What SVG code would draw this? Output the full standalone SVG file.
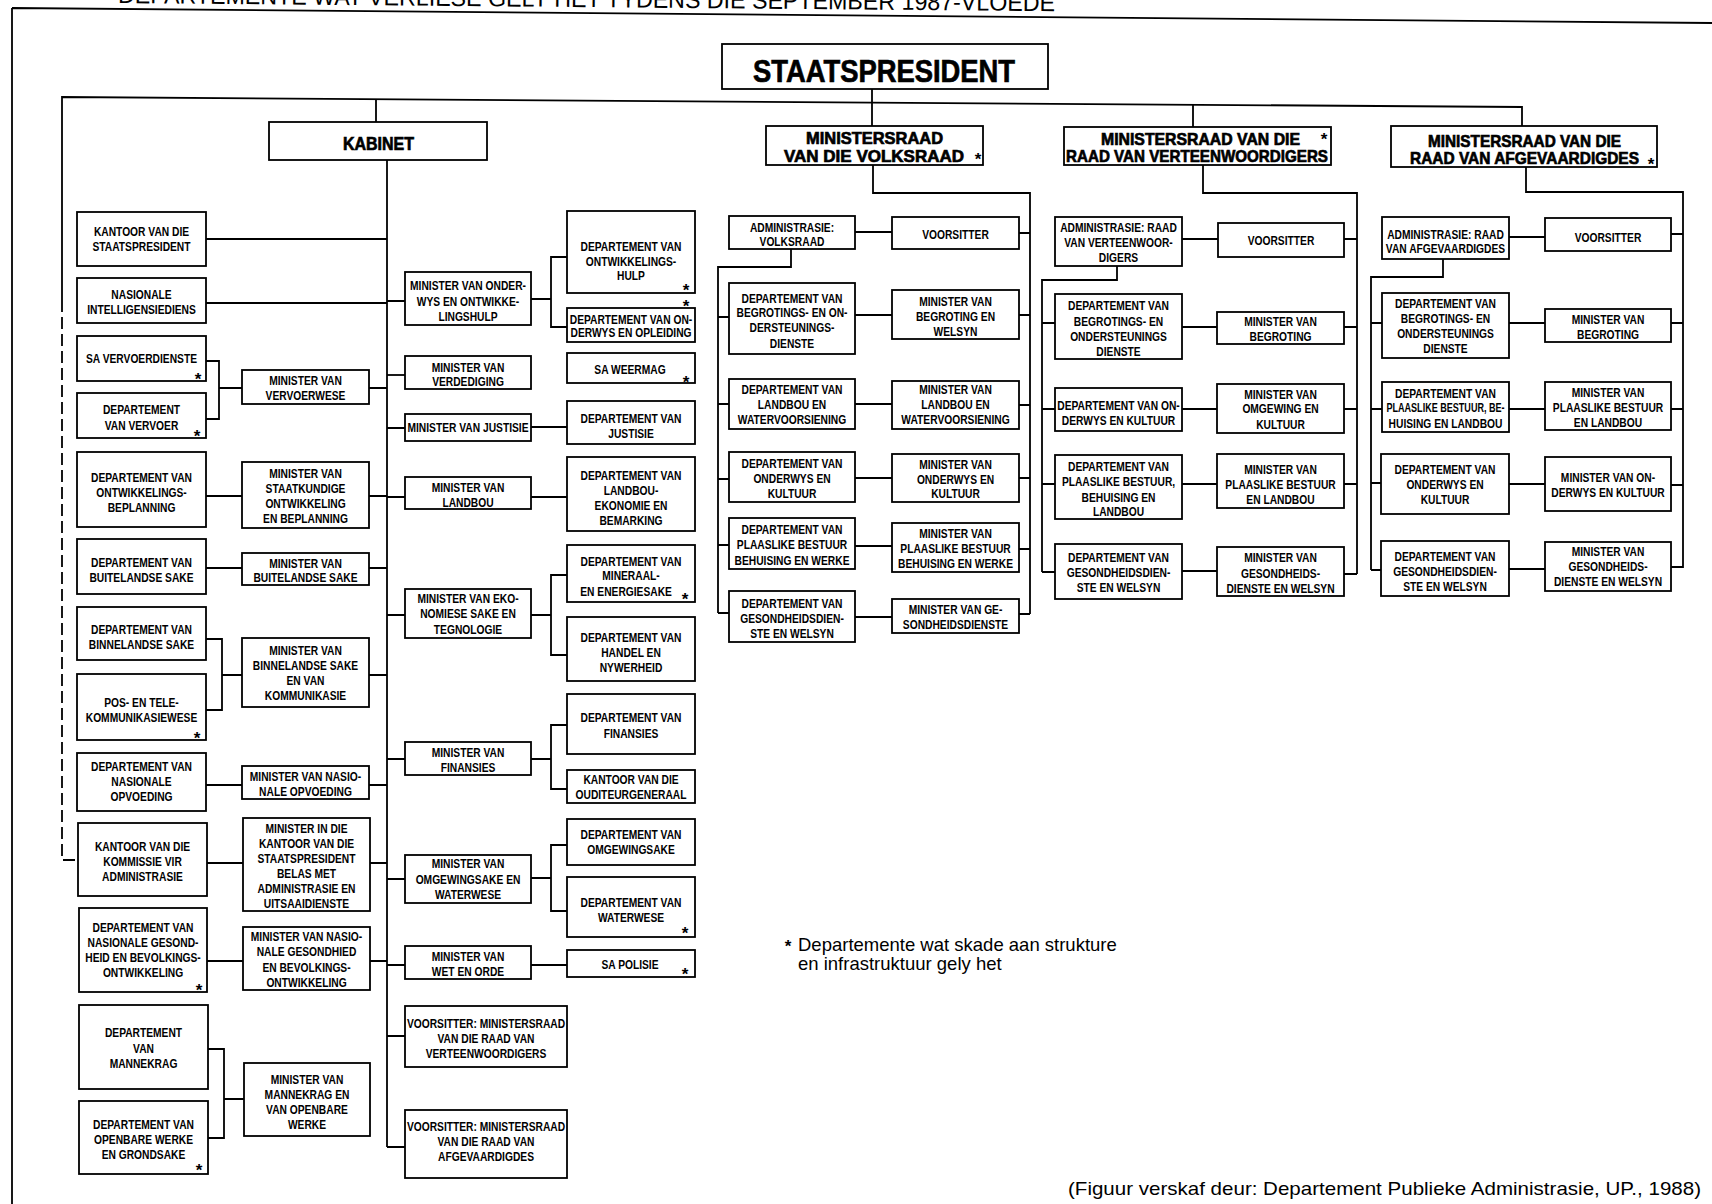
<svg xmlns="http://www.w3.org/2000/svg" width="1712" height="1204" viewBox="0 0 1712 1204">
<style>
.bg{fill:#fff}
.box{fill:#fff;stroke:#000;stroke-width:1.8}
.ln{fill:none;stroke:#000;stroke-width:1.8}
.dash{fill:none;stroke:#000;stroke-width:1.8;stroke-dasharray:12 5}
.lbl text{font-family:"Liberation Sans",Arial,sans-serif;font-weight:700;font-size:12.5px;text-anchor:middle;fill:#000}
.ast{font-family:"Liberation Sans",Arial,sans-serif;font-weight:700;font-size:17px;text-anchor:middle;fill:#000}
.hd{font-family:"Liberation Sans",Arial,sans-serif;font-weight:700;fill:#000;stroke:#000;stroke-width:0.7}
.note{font-family:"Liberation Sans",Arial,sans-serif;font-size:18.5px;fill:#000}
.title{font-family:"Liberation Sans",Arial,sans-serif;font-size:24px;fill:#000}
</style>
<rect class="bg" x="0" y="0" width="1712" height="1204"/>

<!-- title, cut by the top edge of the page -->
<text class="title" x="118" y="3" textLength="937" lengthAdjust="spacingAndGlyphs" transform="rotate(0.5 118 3)">DEPARTEMENTE WAT VERLIESE GELY HET TYDENS DIE SEPTEMBER 1987-VLOEDE</text>

<!-- frame -->
<path class="ln" d="M12,8 L1712,23 M12,8 V1204"/>

<g id="connectors">
  <!-- top bus and branches -->
  <path class="ln" d="M62,300 V97 L1522,107 V126"/>
  <path class="ln" d="M376,99 V122 M872,89 V126 M1193,105 V127"/>
  <path class="dash" d="M62,300 V860 H78"/>
  <!-- Kabinet trunk -->
  <path class="ln" d="M387,160 V1147"/>
  <!-- Kabinet, left side -->
  <path class="ln" d="M206,239 H387 M206,303 H387"/>
  <path class="ln" d="M206,361 H219 V419 H206 M219,388 H242 M369,388 H387"/>
  <path class="ln" d="M206,496 H242 M369,496 H387"/>
  <path class="ln" d="M206,568 H242 M369,568 H387"/>
  <path class="ln" d="M206,639 H222 V710 H206 M222,675 H242 M369,675 H387"/>
  <path class="ln" d="M206,785 H242 M369,785 H387"/>
  <path class="ln" d="M207,863 H243 M370,863 H387"/>
  <path class="ln" d="M207,961 H243 M370,961 H387"/>
  <path class="ln" d="M208,1049 H224 V1138 H208 M224,1099 H244"/>
  <!-- Kabinet, right side -->
  <path class="ln" d="M387,301 H405 M531,299 H551 M567,257 H551 V327 H567"/>
  <path class="ln" d="M387,375 H405"/>
  <path class="ln" d="M387,428 H405 M531,427 H567"/>
  <path class="ln" d="M387,497 H405 M531,497 H567"/>
  <path class="ln" d="M387,615 H405 M531,615 H551 M567,575 H551 V655 H567"/>
  <path class="ln" d="M387,759 H405 M531,759 H551 M567,725 H551 V789 H567"/>
  <path class="ln" d="M387,879 H405 M531,878 H551 M567,845 H551 V911 H567"/>
  <path class="ln" d="M387,965 H405 M531,965 H567"/>
  <path class="ln" d="M387,1036 H405 M387,1147 H405"/>
  <!-- Volksraad -->
  <path class="ln" d="M873,165 V193 H1030 V614"/>
  <path class="ln" d="M1019,233 H1030 M1019,315 H1030 M1019,405 H1030 M1019,478 H1030 M1019,549 H1030 M1019,614 H1030"/>
  <path class="ln" d="M855,232 H892"/>
  <path class="ln" d="M791,249 V267 H718 V613"/>
  <path class="ln" d="M718,317 H729 M718,404 H729 M718,479 H729 M718,545 H729 M718,613 H729"/>
  <path class="ln" d="M855,315 H892 M855,404 H892 M855,478 H892 M855,546 H892 M855,617 H892"/>
  <!-- Raad van Verteenwoordigers -->
  <path class="ln" d="M1203,165 V193 H1357 V574"/>
  <path class="ln" d="M1344,239 H1357 M1344,327 H1357 M1344,409 H1357 M1344,484 H1357 M1344,574 H1357"/>
  <path class="ln" d="M1182,239 H1218"/>
  <path class="ln" d="M1117,266 V280 H1042 V572"/>
  <path class="ln" d="M1042,323 H1055 M1042,409 H1055 M1042,484 H1055 M1042,572 H1055"/>
  <path class="ln" d="M1182,327 H1217 M1182,409 H1217 M1182,484 H1217 M1182,571 H1217"/>
  <!-- Raad van Afgevaardigdes -->
  <path class="ln" d="M1526,167 V192 H1683 V568"/>
  <path class="ln" d="M1671,234 H1683 M1671,323 H1683 M1671,409 H1683 M1671,485 H1683 M1671,567 H1683"/>
  <path class="ln" d="M1509,237 H1545"/>
  <path class="ln" d="M1443,259 V277 H1371 V570"/>
  <path class="ln" d="M1371,323 H1382 M1371,409 H1382 M1371,483 H1381 M1371,570 H1381"/>
  <path class="ln" d="M1509,323 H1545 M1509,409 H1545 M1509,484 H1545 M1509,569 H1545"/>
</g>

<!-- top level -->
<g id="staatspresident">
  <rect class="box" x="722" y="44" width="326" height="45"/>
  <text class="hd" x="753" y="82" font-size="32" stroke-width="1.1" textLength="262" lengthAdjust="spacingAndGlyphs">STAATSPRESIDENT</text>
</g>
<g id="kabinet">
  <rect class="box" x="269" y="122" width="218" height="38"/>
  <text class="hd" x="343" y="150" font-size="18" textLength="71" lengthAdjust="spacingAndGlyphs">KABINET</text>
</g>
<g id="mr-volksraad">
  <rect class="box" x="766" y="126" width="217" height="39"/>
  <text class="hd" x="806" y="144" font-size="17" textLength="137" lengthAdjust="spacingAndGlyphs">MINISTERSRAAD</text>
  <text class="hd" x="784" y="162" font-size="17" textLength="180" lengthAdjust="spacingAndGlyphs">VAN DIE VOLKSRAAD</text>
  <text class="ast" x="978" y="165" font-size="13">*</text>
</g>
<g id="mr-verteenwoordigers">
  <rect class="box" x="1064" y="127" width="267" height="38"/>
  <text class="hd" x="1101" y="145" font-size="17" textLength="199" lengthAdjust="spacingAndGlyphs">MINISTERSRAAD VAN DIE</text>
  <text class="hd" x="1066" y="162" font-size="17" textLength="262" lengthAdjust="spacingAndGlyphs">RAAD VAN VERTEENWOORDIGERS</text>
  <text class="ast" x="1324" y="145">*</text>
</g>
<g id="mr-afgevaardigdes">
  <rect class="box" x="1391" y="126" width="266" height="41"/>
  <text class="hd" x="1428" y="147" font-size="17" textLength="193" lengthAdjust="spacingAndGlyphs">MINISTERSRAAD VAN DIE</text>
  <text class="hd" x="1410" y="164" font-size="17" textLength="229" lengthAdjust="spacingAndGlyphs">RAAD VAN AFGEVAARDIGDES</text>
  <text class="ast" x="1651" y="170" font-size="13">*</text>
</g>

<!-- Kabinet: departments, left column -->
<g id="kantoor-staatspresident">
  <rect class="box" x="77" y="212" width="129" height="54"/>
  <g class="lbl" transform="translate(141.5 0) scale(.82 1)"><text y="236.5">KANTOOR VAN DIE</text><text y="251.5">STAATSPRESIDENT</text></g>
</g>
<g id="nasionale-intelligensiediens">
  <rect class="box" x="77" y="278" width="129" height="45"/>
  <g class="lbl" transform="translate(141.5 0) scale(.82 1)"><text y="299.5">NASIONALE</text><text y="314.5">INTELLIGENSIEDIENS</text></g>
</g>
<g id="sa-vervoerdienste">
  <rect class="box" x="77" y="336" width="129" height="45"/>
  <g class="lbl" transform="translate(141.5 0) scale(.82 1)"><text y="363.5">SA VERVOERDIENSTE</text></g>
  <text class="ast" x="198" y="385">*</text>
</g>
<g id="dept-vervoer">
  <rect class="box" x="77" y="393" width="129" height="45"/>
  <g class="lbl" transform="translate(141.5 0) scale(.82 1)"><text y="414.5">DEPARTEMENT</text><text y="430.5">VAN VERVOER</text></g>
  <text class="ast" x="197" y="442">*</text>
</g>
<g id="dept-ontwikkelingsbeplanning">
  <rect class="box" x="77" y="452" width="129" height="75"/>
  <g class="lbl" transform="translate(141.5 0) scale(.82 1)"><text y="482.5">DEPARTEMENT VAN</text><text y="497.5">ONTWIKKELINGS-</text><text y="512.5">BEPLANNING</text></g>
</g>
<g id="dept-buitelandse-sake">
  <rect class="box" x="77" y="539" width="129" height="55"/>
  <g class="lbl" transform="translate(141.5 0) scale(.82 1)"><text y="567.5">DEPARTEMENT VAN</text><text y="582.5">BUITELANDSE SAKE</text></g>
</g>
<g id="dept-binnelandse-sake">
  <rect class="box" x="77" y="607" width="129" height="53"/>
  <g class="lbl" transform="translate(141.5 0) scale(.82 1)"><text y="634.5">DEPARTEMENT VAN</text><text y="649.5">BINNELANDSE SAKE</text></g>
</g>
<g id="pos-telekommunikasie">
  <rect class="box" x="77" y="674" width="129" height="66"/>
  <g class="lbl" transform="translate(141.5 0) scale(.82 1)"><text y="707.5">POS- EN TELE-</text><text y="722.5">KOMMUNIKASIEWESE</text></g>
  <text class="ast" x="197" y="744">*</text>
</g>
<g id="dept-nasionale-opvoeding">
  <rect class="box" x="77" y="753" width="129" height="58"/>
  <g class="lbl" transform="translate(141.5 0) scale(.82 1)"><text y="771.5">DEPARTEMENT VAN</text><text y="786.5">NASIONALE</text><text y="801.5">OPVOEDING</text></g>
</g>
<g id="kantoor-kommissie-administrasie">
  <rect class="box" x="78" y="823" width="129" height="73"/>
  <g class="lbl" transform="translate(142.5 0) scale(.82 1)"><text y="851.5">KANTOOR VAN DIE</text><text y="866.5">KOMMISSIE VIR</text><text y="881.5">ADMINISTRASIE</text></g>
</g>
<g id="dept-nasionale-gesondheid">
  <rect class="box" x="79" y="908" width="128" height="84"/>
  <g class="lbl" transform="translate(143 0) scale(.82 1)"><text y="932.5">DEPARTEMENT VAN</text><text y="947.5">NASIONALE GESOND-</text><text y="962.5">HEID EN BEVOLKINGS-</text><text y="977.5">ONTWIKKELING</text></g>
  <text class="ast" x="199" y="996">*</text>
</g>
<g id="dept-mannekrag">
  <rect class="box" x="79" y="1005" width="129" height="84"/>
  <g class="lbl" transform="translate(143.5 0) scale(.82 1)"><text y="1037.5">DEPARTEMENT</text><text y="1053.5">VAN</text><text y="1068.5">MANNEKRAG</text></g>
</g>
<g id="dept-openbare-werke">
  <rect class="box" x="79" y="1101" width="129" height="73"/>
  <g class="lbl" transform="translate(143.5 0) scale(.82 1)"><text y="1129.5">DEPARTEMENT VAN</text><text y="1144.5">OPENBARE WERKE</text><text y="1159.5">EN GRONDSAKE</text></g>
  <text class="ast" x="199" y="1176">*</text>
</g>

<!-- Kabinet: ministers, left column -->
<g id="min-vervoerwese">
  <rect class="box" x="242" y="370" width="127" height="34"/>
  <g class="lbl" transform="translate(305.5 0) scale(.82 1)"><text y="385.5">MINISTER VAN</text><text y="400.5">VERVOERWESE</text></g>
</g>
<g id="min-staatkundige-ontwikkeling">
  <rect class="box" x="242" y="462" width="127" height="66"/>
  <g class="lbl" transform="translate(305.5 0) scale(.82 1)"><text y="478.5">MINISTER VAN</text><text y="493.5">STAATKUNDIGE</text><text y="508.5">ONTWIKKELING</text><text y="523.5">EN BEPLANNING</text></g>
</g>
<g id="min-buitelandse-sake">
  <rect class="box" x="242" y="553" width="127" height="32"/>
  <g class="lbl" transform="translate(305.5 0) scale(.82 1)"><text y="568.5">MINISTER VAN</text><text y="582.5">BUITELANDSE SAKE</text></g>
</g>
<g id="min-binnelandse-sake">
  <rect class="box" x="242" y="638" width="127" height="69"/>
  <g class="lbl" transform="translate(305.5 0) scale(.82 1)"><text y="655.5">MINISTER VAN</text><text y="670.5">BINNELANDSE SAKE</text><text y="685.5">EN VAN</text><text y="700.5">KOMMUNIKASIE</text></g>
</g>
<g id="min-nasionale-opvoeding">
  <rect class="box" x="242" y="766" width="127" height="33"/>
  <g class="lbl" transform="translate(305.5 0) scale(.82 1)"><text y="781.5">MINISTER VAN NASIO-</text><text y="796.5">NALE OPVOEDING</text></g>
</g>
<g id="min-kantoor-staatspresident">
  <rect class="box" x="243" y="818" width="127" height="93"/>
  <g class="lbl" transform="translate(306.5 0) scale(.82 1)"><text y="833.5">MINISTER IN DIE</text><text y="848.5">KANTOOR VAN DIE</text><text y="863.5">STAATSPRESIDENT</text><text y="878.5">BELAS MET</text><text y="893.5">ADMINISTRASIE EN</text><text y="908.5">UITSAAIDIENSTE</text></g>
</g>
<g id="min-nasionale-gesondheid">
  <rect class="box" x="243" y="927" width="127" height="63"/>
  <g class="lbl" transform="translate(306.5 0) scale(.82 1)"><text y="941.5">MINISTER VAN NASIO-</text><text y="956.5">NALE GESONDHIED</text><text y="972.5">EN BEVOLKINGS-</text><text y="987.5">ONTWIKKELING</text></g>
</g>
<g id="min-mannekrag">
  <rect class="box" x="244" y="1063" width="126" height="73"/>
  <g class="lbl" transform="translate(307 0) scale(.82 1)"><text y="1084.5">MINISTER VAN</text><text y="1099.5">MANNEKRAG EN</text><text y="1114.5">VAN OPENBARE</text><text y="1129.5">WERKE</text></g>
</g>

<!-- Kabinet: ministers, right column -->
<g id="min-onderwys-ontwikkelingshulp">
  <rect class="box" x="405" y="272" width="126" height="53"/>
  <g class="lbl" transform="translate(468 0) scale(.82 1)"><text y="290.5">MINISTER VAN ONDER-</text><text y="306.5">WYS EN ONTWIKKE-</text><text y="321.5">LINGSHULP</text></g>
</g>
<g id="min-verdediging">
  <rect class="box" x="405" y="356" width="126" height="33"/>
  <g class="lbl" transform="translate(468 0) scale(.82 1)"><text y="372.5">MINISTER VAN</text><text y="386.5">VERDEDIGING</text></g>
</g>
<g id="min-justisie">
  <rect class="box" x="405" y="414" width="126" height="27"/>
  <g class="lbl" transform="translate(468 0) scale(.82 1)"><text y="432.5">MINISTER VAN JUSTISIE</text></g>
</g>
<g id="min-landbou">
  <rect class="box" x="405" y="477" width="126" height="32"/>
  <g class="lbl" transform="translate(468 0) scale(.82 1)"><text y="492.5">MINISTER VAN</text><text y="507.5">LANDBOU</text></g>
</g>
<g id="min-ekonomiese-sake">
  <rect class="box" x="405" y="589" width="126" height="49"/>
  <g class="lbl" transform="translate(468 0) scale(.82 1)"><text y="603.5">MINISTER VAN EKO-</text><text y="618.5">NOMIESE SAKE EN</text><text y="634.5">TEGNOLOGIE</text></g>
</g>
<g id="min-finansies">
  <rect class="box" x="405" y="742" width="126" height="33"/>
  <g class="lbl" transform="translate(468 0) scale(.82 1)"><text y="757.5">MINISTER VAN</text><text y="772.5">FINANSIES</text></g>
</g>
<g id="min-omgewingsake">
  <rect class="box" x="405" y="855" width="126" height="48"/>
  <g class="lbl" transform="translate(468 0) scale(.82 1)"><text y="868.5">MINISTER VAN</text><text y="884.5">OMGEWINGSAKE EN</text><text y="899.5">WATERWESE</text></g>
</g>
<g id="min-wet-en-orde">
  <rect class="box" x="405" y="946" width="126" height="33"/>
  <g class="lbl" transform="translate(468 0) scale(.82 1)"><text y="961.5">MINISTER VAN</text><text y="976.5">WET EN ORDE</text></g>
</g>
<g id="voorsitter-mr-verteenwoordigers">
  <rect class="box" x="405" y="1006" width="162" height="61"/>
  <g class="lbl" transform="translate(486 0) scale(.82 1)"><text y="1028.5">VOORSITTER: MINISTERSRAAD</text><text y="1043.5">VAN DIE RAAD VAN</text><text y="1058.5">VERTEENWOORDIGERS</text></g>
</g>
<g id="voorsitter-mr-afgevaardigdes">
  <rect class="box" x="405" y="1110" width="162" height="68"/>
  <g class="lbl" transform="translate(486 0) scale(.82 1)"><text y="1131.5">VOORSITTER: MINISTERSRAAD</text><text y="1146.5">VAN DIE RAAD VAN</text><text y="1161.5">AFGEVAARDIGDES</text></g>
</g>

<!-- Kabinet: departments, right column -->
<g id="dept-ontwikkelingshulp">
  <rect class="box" x="567" y="211" width="128" height="82"/>
  <g class="lbl" transform="translate(631 0) scale(.82 1)"><text y="251.5">DEPARTEMENT VAN</text><text y="266.5">ONTWIKKELINGS-</text><text y="280.5">HULP</text></g>
  <text class="ast" x="686" y="296">*</text>
</g>
<g id="dept-onderwys-opleiding">
  <rect class="box" x="567" y="308" width="128" height="34"/>
  <g class="lbl" transform="translate(631 0) scale(.82 1)"><text y="324.5">DEPARTEMENT VAN ON-</text><text y="337.5">DERWYS EN OPLEIDING</text></g>
  <text class="ast" x="686" y="312">*</text>
</g>
<g id="sa-weermag">
  <rect class="box" x="567" y="353" width="128" height="30"/>
  <g class="lbl" transform="translate(630 0) scale(.82 1)"><text y="374.5">SA WEERMAG</text></g>
  <text class="ast" x="686" y="388">*</text>
</g>
<g id="dept-justisie">
  <rect class="box" x="567" y="401" width="128" height="43"/>
  <g class="lbl" transform="translate(631 0) scale(.82 1)"><text y="423.5">DEPARTEMENT VAN</text><text y="438.5">JUSTISIE</text></g>
</g>
<g id="dept-landbou-ekonomie">
  <rect class="box" x="567" y="457" width="128" height="74"/>
  <g class="lbl" transform="translate(631 0) scale(.82 1)"><text y="480.5">DEPARTEMENT VAN</text><text y="495.5">LANDBOU-</text><text y="510.5">EKONOMIE EN</text><text y="525.5">BEMARKING</text></g>
</g>
<g id="dept-mineraal-energiesake">
  <rect class="box" x="567" y="545" width="128" height="57"/>
  <g class="lbl" transform="translate(631 0) scale(.82 1)"><text y="566.5">DEPARTEMENT VAN</text><text y="580.5">MINERAAL-</text><text x="-6" y="596.5">EN ENERGIESAKE</text></g>
  <text class="ast" x="685" y="605">*</text>
</g>
<g id="dept-handel-nywerheid">
  <rect class="box" x="567" y="617" width="128" height="64"/>
  <g class="lbl" transform="translate(631 0) scale(.82 1)"><text y="642.5">DEPARTEMENT VAN</text><text y="657.5">HANDEL EN</text><text y="672.5">NYWERHEID</text></g>
</g>
<g id="dept-finansies">
  <rect class="box" x="567" y="694" width="128" height="60"/>
  <g class="lbl" transform="translate(631 0) scale(.82 1)"><text y="722.5">DEPARTEMENT VAN</text><text y="738.5">FINANSIES</text></g>
</g>
<g id="kantoor-ouditeurgeneraal">
  <rect class="box" x="567" y="770" width="128" height="33"/>
  <g class="lbl" transform="translate(631 0) scale(.82 1)"><text y="784.5">KANTOOR VAN DIE</text><text y="799.5">OUDITEURGENERAAL</text></g>
</g>
<g id="dept-omgewingsake">
  <rect class="box" x="567" y="819" width="128" height="46"/>
  <g class="lbl" transform="translate(631 0) scale(.82 1)"><text y="839.5">DEPARTEMENT VAN</text><text y="854.5">OMGEWINGSAKE</text></g>
</g>
<g id="dept-waterwese">
  <rect class="box" x="567" y="877" width="128" height="60"/>
  <g class="lbl" transform="translate(631 0) scale(.82 1)"><text y="907.5">DEPARTEMENT VAN</text><text y="922.5">WATERWESE</text></g>
  <text class="ast" x="685" y="939">*</text>
</g>
<g id="sa-polisie">
  <rect class="box" x="567" y="950" width="128" height="27"/>
  <g class="lbl" transform="translate(630 0) scale(.82 1)"><text y="969.5">SA POLISIE</text></g>
  <text class="ast" x="685" y="980">*</text>
</g>

<!-- Ministersraad van die Volksraad -->
<g id="vr-administrasie">
  <rect class="box" x="729" y="216" width="126" height="33"/>
  <g class="lbl" transform="translate(792 0) scale(.82 1)"><text y="232.5">ADMINISTRASIE:</text><text y="246.5">VOLKSRAAD</text></g>
</g>
<g id="vr-voorsitter">
  <rect class="box" x="892" y="217" width="127" height="32"/>
  <g class="lbl" transform="translate(955.5 0) scale(.82 1)"><text y="239.5">VOORSITTER</text></g>
</g>
<g id="vr-dept-begrotings">
  <rect class="box" x="729" y="283" width="126" height="71"/>
  <g class="lbl" transform="translate(792 0) scale(.82 1)"><text y="303.5">DEPARTEMENT VAN</text><text y="317.5">BEGROTINGS- EN ON-</text><text y="332.5">DERSTEUNINGS-</text><text y="348.5">DIENSTE</text></g>
</g>
<g id="vr-min-begroting">
  <rect class="box" x="892" y="290" width="127" height="49"/>
  <g class="lbl" transform="translate(955.5 0) scale(.82 1)"><text y="306.5">MINISTER VAN</text><text y="321.5">BEGROTING EN</text><text y="336.5">WELSYN</text></g>
</g>
<g id="vr-dept-landbou">
  <rect class="box" x="729" y="379" width="126" height="50"/>
  <g class="lbl" transform="translate(792 0) scale(.82 1)"><text y="394.5">DEPARTEMENT VAN</text><text y="409.5">LANDBOU EN</text><text y="424.5">WATERVOORSIENING</text></g>
</g>
<g id="vr-min-landbou">
  <rect class="box" x="892" y="381" width="127" height="48"/>
  <g class="lbl" transform="translate(955.5 0) scale(.82 1)"><text y="394.5">MINISTER VAN</text><text y="409.5">LANDBOU EN</text><text y="424.5">WATERVOORSIENING</text></g>
</g>
<g id="vr-dept-onderwys">
  <rect class="box" x="729" y="452" width="126" height="50"/>
  <g class="lbl" transform="translate(792 0) scale(.82 1)"><text y="468.5">DEPARTEMENT VAN</text><text y="483.5">ONDERWYS EN</text><text y="498.5">KULTUUR</text></g>
</g>
<g id="vr-min-onderwys">
  <rect class="box" x="892" y="454" width="127" height="48"/>
  <g class="lbl" transform="translate(955.5 0) scale(.82 1)"><text y="469.5">MINISTER VAN</text><text y="484.5">ONDERWYS EN</text><text y="498.5">KULTUUR</text></g>
</g>
<g id="vr-dept-plaaslike-bestuur">
  <rect class="box" x="729" y="518" width="126" height="51"/>
  <g class="lbl" transform="translate(792 0) scale(.82 1)"><text y="534.5">DEPARTEMENT VAN</text><text y="549.5">PLAASLIKE BESTUUR</text><text y="565.5">BEHUISING EN WERKE</text></g>
</g>
<g id="vr-min-plaaslike-bestuur">
  <rect class="box" x="892" y="523" width="127" height="49"/>
  <g class="lbl" transform="translate(955.5 0) scale(.82 1)"><text y="538.5">MINISTER VAN</text><text y="553.5">PLAASLIKE BESTUUR</text><text y="568.5">BEHUISING EN WERKE</text></g>
</g>
<g id="vr-dept-gesondheid">
  <rect class="box" x="729" y="591" width="126" height="51"/>
  <g class="lbl" transform="translate(792 0) scale(.82 1)"><text y="608.5">DEPARTEMENT VAN</text><text y="623.5">GESONDHEIDSDIEN-</text><text y="638.5">STE EN WELSYN</text></g>
</g>
<g id="vr-min-gesondheid">
  <rect class="box" x="892" y="599" width="127" height="34"/>
  <g class="lbl" transform="translate(955.5 0) scale(.82 1)"><text y="614.5">MINISTER VAN GE-</text><text y="629.5">SONDHEIDSDIENSTE</text></g>
</g>

<!-- Ministersraad van die Raad van Verteenwoordigers -->
<g id="rv-administrasie">
  <rect class="box" x="1055" y="217" width="127" height="49"/>
  <g class="lbl" transform="translate(1118.5 0) scale(.82 1)"><text y="232.5">ADMINISTRASIE: RAAD</text><text y="247.5">VAN VERTEENWOOR-</text><text y="262.5">DIGERS</text></g>
</g>
<g id="rv-voorsitter">
  <rect class="box" x="1218" y="223" width="126" height="34"/>
  <g class="lbl" transform="translate(1281 0) scale(.82 1)"><text y="245.5">VOORSITTER</text></g>
</g>
<g id="rv-dept-begrotings">
  <rect class="box" x="1055" y="294" width="127" height="65"/>
  <g class="lbl" transform="translate(1118.5 0) scale(.82 1)"><text y="310.5">DEPARTEMENT VAN</text><text y="326.5">BEGROTINGS- EN</text><text y="341.5">ONDERSTEUNINGS</text><text y="356.5">DIENSTE</text></g>
</g>
<g id="rv-min-begroting">
  <rect class="box" x="1217" y="312" width="127" height="32"/>
  <g class="lbl" transform="translate(1280.5 0) scale(.82 1)"><text y="326.5">MINISTER VAN</text><text y="341.5">BEGROTING</text></g>
</g>
<g id="rv-dept-onderwys">
  <rect class="box" x="1055" y="388" width="127" height="43"/>
  <g class="lbl" transform="translate(1118.5 0) scale(.82 1)"><text y="410.5">DEPARTEMENT VAN ON-</text><text y="425.5">DERWYS EN KULTUUR</text></g>
</g>
<g id="rv-min-omgewing">
  <rect class="box" x="1217" y="384" width="127" height="49"/>
  <g class="lbl" transform="translate(1280.5 0) scale(.82 1)"><text y="399.5">MINISTER VAN</text><text y="413.5">OMGEWING EN</text><text y="429.5">KULTUUR</text></g>
</g>
<g id="rv-dept-plaaslike-bestuur">
  <rect class="box" x="1055" y="455" width="127" height="64"/>
  <g class="lbl" transform="translate(1118.5 0) scale(.82 1)"><text y="471.5">DEPARTEMENT VAN</text><text y="486.5">PLAASLIKE BESTUUR,</text><text y="502.5">BEHUISING EN</text><text y="516.5">LANDBOU</text></g>
</g>
<g id="rv-min-plaaslike-bestuur">
  <rect class="box" x="1217" y="454" width="127" height="54"/>
  <g class="lbl" transform="translate(1280.5 0) scale(.82 1)"><text y="474.5">MINISTER VAN</text><text y="489.5">PLAASLIKE BESTUUR</text><text y="504.5">EN LANDBOU</text></g>
</g>
<g id="rv-dept-gesondheid">
  <rect class="box" x="1055" y="544" width="127" height="55"/>
  <g class="lbl" transform="translate(1118.5 0) scale(.82 1)"><text y="562.5">DEPARTEMENT VAN</text><text y="577.5">GESONDHEIDSDIEN-</text><text y="592.5">STE EN WELSYN</text></g>
</g>
<g id="rv-min-gesondheid">
  <rect class="box" x="1217" y="547" width="127" height="49"/>
  <g class="lbl" transform="translate(1280.5 0) scale(.82 1)"><text y="562.5">MINISTER VAN</text><text y="578.5">GESONDHEIDS-</text><text y="593.5">DIENSTE EN WELSYN</text></g>
</g>

<!-- Ministersraad van die Raad van Afgevaardigdes -->
<g id="ra-administrasie">
  <rect class="box" x="1382" y="217" width="127" height="42"/>
  <g class="lbl" transform="translate(1445.5 0) scale(.82 1)"><text y="239.5">ADMINISTRASIE: RAAD</text><text y="253.5">VAN AFGEVAARDIGDES</text></g>
</g>
<g id="ra-voorsitter">
  <rect class="box" x="1545" y="218" width="126" height="33"/>
  <g class="lbl" transform="translate(1608 0) scale(.82 1)"><text y="242.5">VOORSITTER</text></g>
</g>
<g id="ra-dept-begrotings">
  <rect class="box" x="1382" y="293" width="127" height="65"/>
  <g class="lbl" transform="translate(1445.5 0) scale(.82 1)"><text y="308.5">DEPARTEMENT VAN</text><text y="323.5">BEGROTINGS- EN</text><text y="338.5">ONDERSTEUNINGS</text><text y="353.5">DIENSTE</text></g>
</g>
<g id="ra-min-begroting">
  <rect class="box" x="1545" y="309" width="126" height="33"/>
  <g class="lbl" transform="translate(1608 0) scale(.82 1)"><text y="324.5">MINISTER VAN</text><text y="339.5">BEGROTING</text></g>
</g>
<g id="ra-dept-plaaslike-bestuur">
  <rect class="box" x="1382" y="382" width="127" height="50"/>
  <g class="lbl" transform="translate(1445.5 0) scale(.82 1)"><text y="398.5">DEPARTEMENT VAN</text><text y="412.5" textLength="144" lengthAdjust="spacingAndGlyphs">PLAASLIKE BESTUUR, BE-</text><text y="428.5">HUISING EN LANDBOU</text></g>
</g>
<g id="ra-min-plaaslike-bestuur">
  <rect class="box" x="1545" y="382" width="126" height="48"/>
  <g class="lbl" transform="translate(1608 0) scale(.82 1)"><text y="397.5">MINISTER VAN</text><text y="412.5">PLAASLIKE BESTUUR</text><text y="427.5">EN LANDBOU</text></g>
</g>
<g id="ra-dept-onderwys">
  <rect class="box" x="1381" y="454" width="128" height="60"/>
  <g class="lbl" transform="translate(1445 0) scale(.82 1)"><text y="474.5">DEPARTEMENT VAN</text><text y="489.5">ONDERWYS EN</text><text y="504.5">KULTUUR</text></g>
</g>
<g id="ra-min-onderwys">
  <rect class="box" x="1545" y="457" width="126" height="54"/>
  <g class="lbl" transform="translate(1608 0) scale(.82 1)"><text y="482.5">MINISTER VAN ON-</text><text y="497.5">DERWYS EN KULTUUR</text></g>
</g>
<g id="ra-dept-gesondheid">
  <rect class="box" x="1381" y="541" width="128" height="55"/>
  <g class="lbl" transform="translate(1445 0) scale(.82 1)"><text y="561.5">DEPARTEMENT VAN</text><text y="576.5">GESONDHEIDSDIEN-</text><text y="591.5">STE EN WELSYN</text></g>
</g>
<g id="ra-min-gesondheid">
  <rect class="box" x="1545" y="542" width="126" height="49"/>
  <g class="lbl" transform="translate(1608 0) scale(.82 1)"><text y="556.5">MINISTER VAN</text><text y="571.5">GESONDHEIDS-</text><text y="586.5">DIENSTE EN WELSYN</text></g>
</g>

<!-- legend and source -->
<g id="legend">
  <text class="ast" x="788" y="952">*</text>
  <text class="note" x="798" y="951">Departemente wat skade aan strukture</text>
  <text class="note" x="798" y="970">en infrastruktuur gely het</text>
</g>
<text class="note" x="1068" y="1195" font-size="19" textLength="633" lengthAdjust="spacingAndGlyphs">(Figuur verskaf deur: Departement Publieke Administrasie, UP., 1988)</text>
</svg>
